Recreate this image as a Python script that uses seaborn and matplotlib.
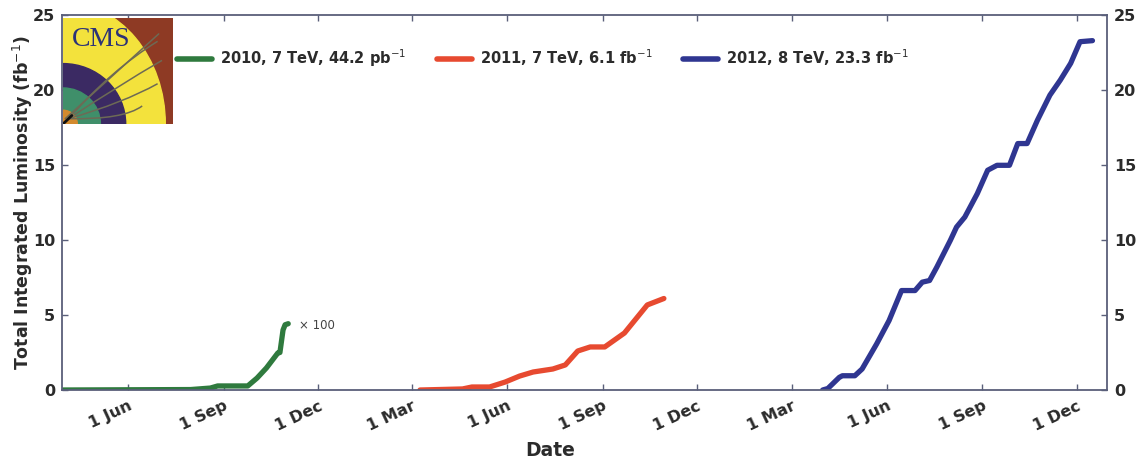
import matplotlib
matplotlib.use("Agg")
import matplotlib.pyplot as plt
import matplotlib.dates as mdates
from matplotlib.lines import Line2D
from matplotlib.patches import Wedge, Rectangle, Ellipse, PathPatch
from matplotlib.path import Path
import pandas as pd
import seaborn as sns

# ---------------- data ----------------
dates_2010 = ["2010-03-30", "2010-07-31", "2010-08-19", "2010-08-26", "2010-09-24",
              "2010-10-03", "2010-10-12", "2010-10-23", "2010-10-25", "2010-10-28",
              "2010-10-30", "2010-11-02"]
lumi_2010_x100 = [0.0, 0.03, 0.13, 0.27, 0.27, 0.8, 1.47, 2.47, 2.5, 4.0, 4.35, 4.42]

dates_2011 = ["2011-03-09", "2011-04-19", "2011-04-28", "2011-05-15", "2011-05-30",
              "2011-06-13", "2011-06-26", "2011-07-15", "2011-07-27", "2011-08-08",
              "2011-08-20", "2011-09-03", "2011-09-22", "2011-10-14", "2011-10-30"]
lumi_2011 = [0.0, 0.07, 0.2, 0.2, 0.53, 0.93, 1.2, 1.4, 1.67, 2.6, 2.87, 2.87,
             3.8, 5.67, 6.1]

dates_2012 = ["2012-03-31", "2012-04-05", "2012-04-16", "2012-04-19", "2012-05-01",
              "2012-05-08", "2012-05-22", "2012-06-03", "2012-06-15", "2012-06-28",
              "2012-07-05", "2012-07-12", "2012-07-19", "2012-08-01", "2012-08-07",
              "2012-08-15", "2012-08-27", "2012-09-06", "2012-09-15", "2012-09-27",
              "2012-10-05", "2012-10-14", "2012-10-24", "2012-11-05", "2012-11-15",
              "2012-11-25", "2012-12-04", "2012-12-16"]
lumi_2012 = [0.0, 0.1, 0.84, 0.95, 0.95, 1.4, 3.07, 4.63, 6.63, 6.63, 7.19, 7.3,
             8.19, 9.97, 10.86, 11.53, 13.09, 14.65, 14.98, 14.98, 16.43, 16.43,
             17.99, 19.66, 20.66, 21.78, 23.22, 23.29]

run_labels = [r"2010, 7 TeV, 44.2 pb$^{-1}$",
              r"2011, 7 TeV, 6.1 fb$^{-1}$",
              r"2012, 8 TeV, 23.3 fb$^{-1}$"]
run_colors = ["#2f7a3e", "#e74a30", "#2f3691"]
y_ticks = [0, 5, 10, 15, 20, 25]

# ---------------- build frame ----------------
frames = []
for lab, d, v in zip(run_labels, [dates_2010, dates_2011, dates_2012],
                     [lumi_2010_x100, lumi_2011, lumi_2012]):
    frames.append(pd.DataFrame({"date": pd.to_datetime(d), "lumi": v, "run": lab}))
df = pd.concat(frames, ignore_index=True)

sns.set_style("ticks")
plt.rcParams["font.family"] = ["DejaVu Sans"]
edge = "#5a5f7a"

fig = plt.figure(figsize=(11.38, 4.58), dpi=100)
ax = fig.add_axes([62 / 1138, 1 - 390 / 458, (1107 - 62) / 1138, (390 - 15) / 458])

sns.lineplot(data=df, x="date", y="lumi", hue="run", palette=run_colors,
             hue_order=run_labels, linewidth=3.8, estimator=None, sort=False,
             legend=False, ax=ax)

ax.set_xlim(pd.Timestamp("2010-03-29"), pd.Timestamp("2012-12-30"))
ax.set_ylim(0, 25)
ax.set_yticks(y_ticks)

ax.xaxis.set_major_locator(mdates.MonthLocator(bymonth=[3, 6, 9, 12], bymonthday=1))
ax.xaxis.set_major_formatter(mdates.DateFormatter("1 %b"))

for s in ax.spines.values():
    s.set_color(edge)
    s.set_linewidth(1.3)
ax.tick_params(axis="both", direction="in", colors=edge, length=4, width=1,
               labelsize=11.5, labelcolor="#2b2b2b")
ax.tick_params(axis="x", top=True, pad=6)
ax.tick_params(axis="y", right=True, labelright=True, pad=5)
for lbl in ax.get_xticklabels():
    lbl.set_rotation(25)
    lbl.set_ha("right")
    lbl.set_rotation_mode("anchor")
    lbl.set_fontweight("bold")
for t in ax.yaxis.get_major_ticks():
    t.label1.set_fontweight("bold")
    t.label2.set_fontweight("bold")

ax.set_xlabel("Date", fontsize=13.5, fontweight="bold", color="#2b2b2b")
ax.xaxis.set_label_coords((550 - 62) / 1045, -0.135)
ax.set_ylabel(r"Total Integrated Luminosity (fb$^{-1}$)", fontsize=12.5,
              fontweight="bold", color="#2b2b2b")
ax.yaxis.set_label_coords(-0.026, 0.5)

ax.annotate("\u00d7 100", xy=(pd.Timestamp("2010-11-02"), 4.42), xytext=(8, -1),
            textcoords="offset points", fontsize=8.5, color="#444444", va="center")

handles = [Line2D([], [], color=c, lw=4) for c in run_colors]
leg = fig.legend(handles, run_labels, ncol=3, frameon=False, loc="upper left",
                 bbox_to_anchor=(170 / 1138, 1 - 40 / 458), borderpad=0,
                 handlelength=2.4, handletextpad=0.55, columnspacing=2.1,
                 prop={"weight": "bold", "size": 10.5})
for t in leg.get_texts():
    t.set_color("#2b2b2b")

# ---------------- CMS logo (decorative inset) ----------------
lax = fig.add_axes([63 / 1138, 1 - 124 / 458, 110 / 1138, 106 / 458])
lax.set_xlim(0, 1)
lax.set_ylim(0, 1)
lax.axis("off")
lax.add_patch(Rectangle((0, 0), 1, 1, color="#8e3a24"))
lax.add_patch(Ellipse((0, 0), 1.86, 2.3, color="#f3e23c"))
lax.add_patch(Wedge((0, 0), 0.57, 0, 90, color="#3b2a63"))
lax.add_patch(Wedge((0, 0), 0.34, 0, 90, color="#3f8f6a"))
lax.add_patch(Wedge((0, 0), 0.13, 0, 90, color="#d38a2e"))
tracks = [((0.72, 0.17), (0.55, 0.04)),
          ((0.86, 0.38), (0.55, 0.2)),
          ((0.9, 0.6), (0.5, 0.36)),
          ((0.86, 0.78), (0.45, 0.52))]
for end, ctrl in tracks:
    path = Path([(0.05, 0.05), ctrl, end], [Path.MOVETO, Path.CURVE3, Path.CURVE3])
    lax.add_patch(PathPatch(path, fill=False, edgecolor="#6d6a55", lw=1.1))
lax.plot([0.02, 0.87], [0.05, 0.85], color="#6d6a55", lw=1.1)
lax.plot([0.0, 0.08], [0.0, 0.08], color="#111111", lw=2)
lax.text(0.08, 0.8, "CMS", family="Liberation Serif", fontsize=20,
         color="#2b3277", va="center", ha="left")

fig.savefig("out.png", dpi=100)
